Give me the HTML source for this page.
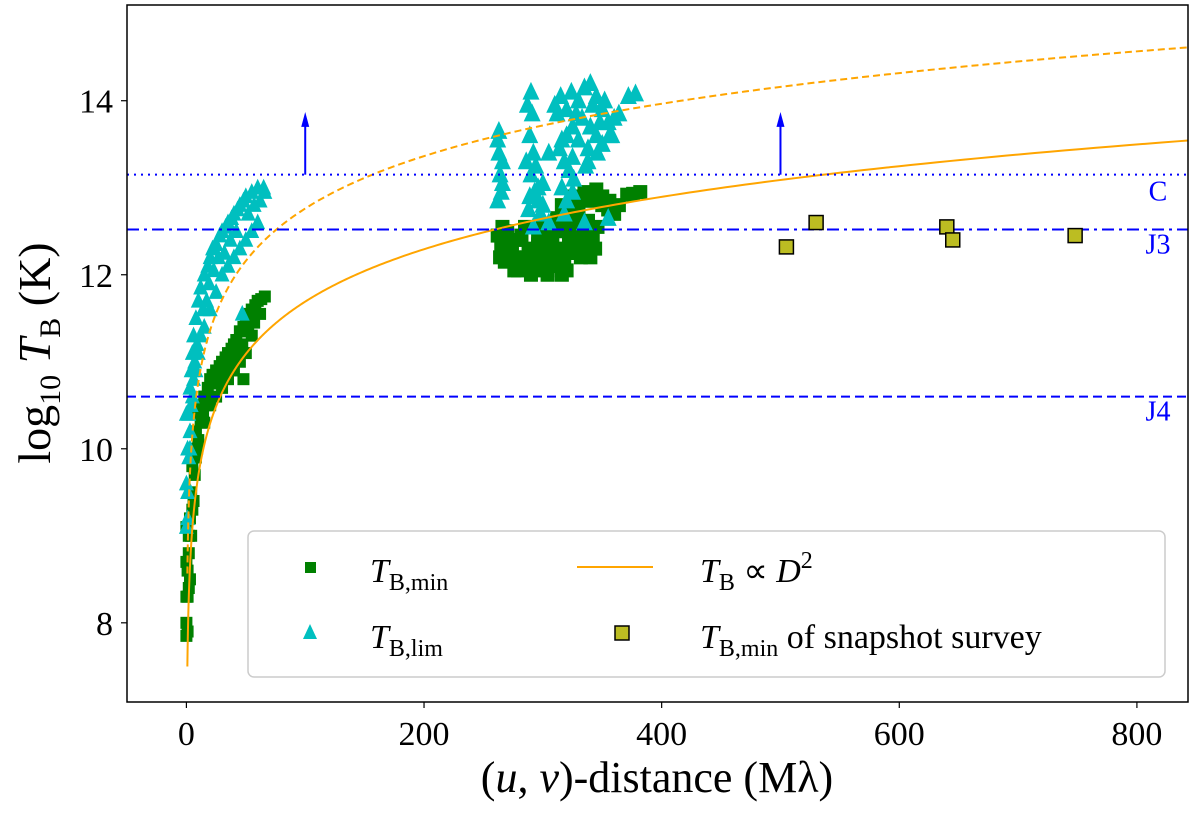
<!DOCTYPE html>
<html><head><meta charset="utf-8"><style>
html,body{margin:0;padding:0;background:#fff;}
svg{display:block;font-family:"Liberation Serif",serif;}
</style></head><body>
<svg id="chart" width="1200" height="827" viewBox="0 0 1200 827" xmlns="http://www.w3.org/2000/svg">
<g id="marks"></g>
<g id="axes"></g>
</svg>
<script>
const xTicks=[0,200,400,600,800];
const yTicks=[8,10,12,14];
const hLineValues=[13.15,12.52,10.6];
const hLineLabels=["C","J3","J4"];
const arrowX=[100,500];
const greenLowX=[0,0,0,0,1,2,3,4,5,6,8,10,12,15,18,20,22,25,28,30,33,35,38,40,42,45,48,50,53,55,58,60,63,66,10,15,20,25,30,35,40,45,48,50,55,5,3,1,2,8,12,18,28,38,0,1,2,4,6,7,9,14,17,23,27,32,37,43,47,52,57,62];
const greenLowY=[7.85,8.3,8.7,9.1,8.3,8.8,9.2,9.5,9.8,10.0,10.2,10.4,10.5,10.6,10.7,10.8,10.85,10.9,10.95,11.0,11.05,11.1,11.15,11.2,11.25,11.35,11.4,11.5,11.55,11.6,11.65,11.7,11.72,11.75,10.1,10.3,10.5,10.6,10.7,10.8,10.9,11.0,10.8,11.1,11.3,9.3,8.5,7.9,9.0,9.9,10.3,10.6,10.8,11.0,8.0,8.6,8.4,9.0,9.4,9.7,10.0,10.4,10.5,10.75,10.8,10.9,11.0,11.1,11.2,11.35,11.45,11.55];
const greenHighX=[262,265,268,272,276,280,284,288,290,293,296,299,302,305,308,311,314,318,322,326,330,334,338,342,346,300,285,270,340,312,316,320,325,330,335,340,345,350,355,360,322,338,376,382,371,295,308,264,274,279,286,292,298,304,310,316,324,332,344,266,282,296,306,318,328,276,290,304,320,350,356,364,330];
const greenHighY=[12.45,12.3,12.15,12.35,12.2,12.4,12.1,12.3,12.0,12.2,12.45,12.05,12.3,12.15,12.4,12.1,12.3,12.15,12.45,12.25,12.4,12.35,12.5,12.45,12.55,12.55,12.55,12.5,12.2,12.65,12.8,12.6,12.9,12.7,12.95,12.85,12.98,12.9,12.75,12.7,12.75,12.62,12.93,12.95,12.92,12.25,12.55,12.2,12.25,12.05,12.2,12.1,12.15,12.0,12.25,12.0,12.3,12.2,12.3,12.55,12.45,12.35,12.45,12.5,12.55,12.05,12.1,12.05,12.05,12.8,12.85,12.8,12.8];
const cyanLowX=[0,0,1,2,3,4,5,6,8,10,12,15,18,20,22,25,28,30,33,35,38,40,43,45,48,50,55,60,65,5,8,10,15,20,25,30,35,40,45,50,55,60,47,1,2,3,0,1,3,4,6,7,9,12,14,17,19,23,27,32,37,42,52,57,62,66];
const cyanLowY=[9.1,9.6,10.0,10.4,10.7,10.9,11.1,11.3,11.5,11.7,11.85,12.0,12.1,12.2,12.3,12.35,12.45,12.5,12.55,12.6,12.65,12.7,12.75,12.8,12.85,12.9,12.95,13.0,13.0,10.6,10.9,11.1,11.4,11.6,11.8,12.0,12.1,12.2,12.3,12.4,12.5,12.6,11.55,9.5,9.9,10.2,10.4,9.2,10.0,10.5,10.8,11.0,11.2,11.3,11.6,11.7,11.9,12.05,12.2,12.25,12.4,12.5,12.7,12.8,12.85,12.95];
const cyanHighX=[263,263,264,265,262,266,290,291,289,292,290,293,288,292,296,298,300,286,314,318,322,316,320,318,325,310,315,320,325,330,335,340,345,350,355,345,330,338,320,358,350,372,378,338,355,335,300,305,262,266,287,294,289,296,312,324,328,333,342,348,352,360,325,340,305,316,326,336,346,356,364];
const cyanHighY=[13.65,13.4,13.15,12.95,12.85,13.3,14.1,13.85,13.6,13.4,13.15,12.95,12.75,12.55,13.0,12.7,12.8,13.3,13.45,13.3,13.2,13.0,12.85,12.7,12.95,13.95,14.05,13.9,13.7,14.0,14.15,14.2,14.05,13.9,13.75,13.6,13.55,13.45,13.6,13.6,13.5,14.05,14.08,13.3,12.65,12.6,13.05,12.6,13.55,13.05,13.95,13.25,12.9,12.85,13.85,14.1,13.85,13.8,13.95,13.75,14.0,13.8,13.35,13.7,13.4,13.55,13.1,13.25,13.4,13.6,13.85];
const snapX=[505,530,640,645,748];
const snapY=[12.32,12.6,12.55,12.4,12.45];
const lawAnchorX=850;
const lawSolidY=13.55;
const lawDashedY=14.62;

const NS="http://www.w3.org/2000/svg";
const L=127,R=1188,T=5,B=702;
const xMin=-50,xMax=843,yMin=7.09,yMax=15.1;
const sx=v=>L+(v-xMin)/(xMax-xMin)*(R-L);
const sy=v=>B-(v-yMin)/(yMax-yMin)*(B-T);
const marks=document.getElementById('marks');
const axes=document.getElementById('axes');
function mk(tag,attrs,parent){const e=document.createElementNS(NS,tag);for(const k in attrs)e.setAttribute(k,attrs[k]);parent.appendChild(e);return e;}

const defs=mk('defs',{},marks);
const cp=mk('clipPath',{id:'clip'},defs);
mk('rect',{x:L,y:T,width:R-L,height:B-T},cp);
const plot=mk('g',{'clip-path':'url(#clip)'},marks);

function lawPath(base){let d='';for(let i=0;i<=400;i++){const D=0.8*Math.pow(850/0.8,i/400);const y=base-2*Math.log10(lawAnchorX/D);d+=(i?'L':'M')+sx(D).toFixed(2)+','+sy(y).toFixed(2);}return d;}

function sq(x,y,s,fill,name,stroke){const r=mk('rect',{x:sx(x)-s/2,y:sy(y)-s/2,width:s,height:s,fill:fill},plot);if(stroke){r.setAttribute('stroke',stroke);r.setAttribute('stroke-width','1.5');}

return r;}
function tri(x,y,s,name){const cx=sx(x),cy=sy(y);const p=mk('polygon',{points:`${cx},${cy-s*0.6} ${cx-s/2},${cy+s*0.45} ${cx+s/2},${cy+s*0.45}`,fill:'#00bfbf'},plot);

}
greenLowX.forEach((x,i)=>sq(x,greenLowY[i],12,'#008000','tb-min-point'));
greenHighX.forEach((x,i)=>sq(x,greenHighY[i],14,'#008000','tb-min-point'));
cyanLowX.forEach((x,i)=>tri(x,cyanLowY[i],15,'tb-lim-point'));
cyanHighX.forEach((x,i)=>tri(x,cyanHighY[i],17,'tb-lim-point'));

const sol=mk('path',{d:lawPath(lawSolidY),fill:'none',stroke:'#ffa500','stroke-width':2},plot);


const das=mk('path',{d:lawPath(lawDashedY),fill:'none',stroke:'#ffa500','stroke-width':2,'stroke-dasharray':'7,4'},plot);



const dashes=['2,5','12,5,3,5','9,5'];
hLineValues.forEach((v,i)=>{const l=mk('line',{x1:L,x2:R,y1:sy(v),y2:sy(v),stroke:'#0000ff','stroke-width':2,'stroke-dasharray':dashes[i]},plot);


const t=mk('text',{x:1158,y:sy(v)+(i===0?26:24),'text-anchor':'middle','font-size':28,fill:'#0000ff'},plot);t.textContent=hLineLabels[i];

});

arrowX.forEach(x=>{const g=mk('g',{},plot);


mk('line',{x1:sx(x),x2:sx(x),y1:sy(hLineValues[0]),y2:sy(13.8),stroke:'#0000ff','stroke-width':2},g);
mk('polygon',{points:`${sx(x)},${sy(13.87)} ${sx(x)-4},${sy(13.7)} ${sx(x)+4},${sy(13.7)}`,fill:'#0000ff'},g);});

snapX.forEach((x,i)=>sq(x,snapY[i],14,'#bcbd22','snapshot-survey-point','#000'));

const fr=mk('rect',{x:L,y:T,width:R-L,height:B-T,fill:'none',stroke:'#000','stroke-width':1.5},axes);


xTicks.forEach(v=>{mk('line',{x1:sx(v),x2:sx(v),y1:B,y2:B+6,stroke:'#000','stroke-width':1.2},axes);
const t=mk('text',{x:sx(v),y:B+43,'text-anchor':'middle','font-size':34},axes);t.textContent=v;

});
yTicks.forEach(v=>{mk('line',{x1:L-6,x2:L,y1:sy(v),y2:sy(v),stroke:'#000','stroke-width':1.2},axes);
const t=mk('text',{x:L-14,y:sy(v)+12,'text-anchor':'end','font-size':34},axes);t.textContent=v;

});
</script>
<svg style="position:absolute;left:0;top:0" width="1200" height="827" xmlns="http://www.w3.org/2000/svg" font-family="Liberation Serif, serif">
<text x="657" y="792" text-anchor="middle" font-size="44">(<tspan font-style="italic">u</tspan>, <tspan font-style="italic">v</tspan>)-distance (Mλ)</text>
<text transform="translate(50,353) rotate(-90)" text-anchor="middle" font-size="46">log<tspan font-size="30" dy="10">10</tspan><tspan dy="-10" font-style="italic"> T</tspan><tspan font-size="30" dy="10">B</tspan><tspan dy="-10"> (K)</tspan></text>
<g>
<rect x="248" y="531" width="917" height="146" rx="6" fill="#fff" fill-opacity="0.85" stroke="#ccc" stroke-width="1.5"/>
<g>
<rect x="305" y="562" width="11" height="11" fill="#008000"/>
<text x="370" y="582" font-size="34" font-style="italic">T<tspan font-size="24" font-style="normal" dy="8">B,min</tspan></text></g>
<g>
<polygon points="310,624 303,639 317,639" fill="#00bfbf"/>
<text x="370" y="648" font-size="34" font-style="italic">T<tspan font-size="24" font-style="normal" dy="8">B,lim</tspan></text></g>
<g>
<line x1="577" x2="653" y1="567" y2="567" stroke="#ffa500" stroke-width="2"/>
<text x="700" y="582" font-size="34"><tspan font-style="italic">T</tspan><tspan font-size="24" dy="8">B</tspan><tspan dy="-8"> ∝ </tspan><tspan font-style="italic">D</tspan><tspan font-size="24" dy="-14">2</tspan></text></g>
<g>
<rect x="615" y="626" width="14" height="14" fill="#bcbd22" stroke="#000" stroke-width="1.5"/>
<text x="700" y="648" font-size="34"><tspan font-style="italic">T</tspan><tspan font-size="24" dy="8">B,min</tspan><tspan dy="-8"> of snapshot survey</tspan></text></g>
</g>
</svg>
</body></html>
